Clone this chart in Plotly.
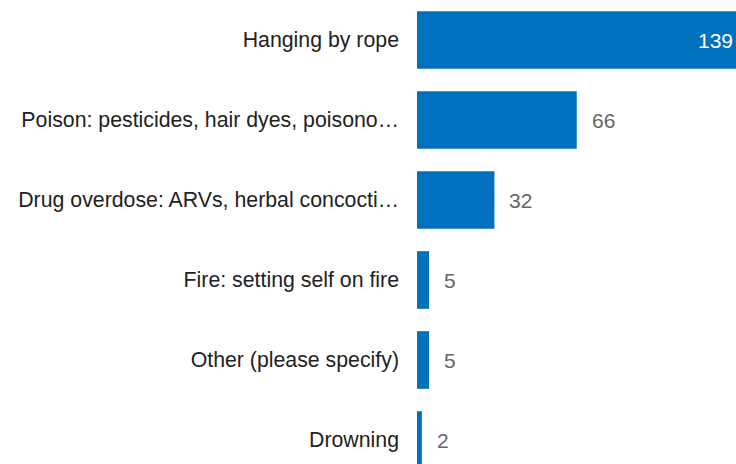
import plotly.graph_objects as go

categories = [
    "Hanging by rope",
    "Poison: pesticides, hair dyes, poisono…",
    "Drug overdose: ARVs, herbal concocti…",
    "Fire: setting self on fire",
    "Other (please specify)",
    "Drowning",
]
values = [139, 66, 32, 5, 5, 2]

BAR_COLOR = "#0071BC"
FONT = "Liberation Sans, Arial, sans-serif"

fig = go.Figure()
fig.add_trace(go.Bar(
    x=values,
    y=categories,
    orientation="h",
    marker=dict(color=BAR_COLOR, line=dict(width=0)),
    hoverinfo="skip",
))

x_max = 131.8
annotations = []
for i, (c, v) in enumerate(zip(categories, values)):
    if v > x_max:
        annotations.append(dict(
            x=1, xref="paper", y=c, yref="y", text=str(v),
            showarrow=False, xanchor="right", xshift=-1,
            font=dict(family=FONT, size=21, color="white"),
        ))
    else:
        annotations.append(dict(
            x=v, xref="x", y=c, yref="y", text=str(v),
            showarrow=False, xanchor="left", xshift=13,
            font=dict(family=FONT, size=21, color="#666666"),
        ))

fig.update_layout(
    width=736,
    height=464,
    margin=dict(l=417, r=0, t=0, b=0, autoexpand=False),
    paper_bgcolor="white",
    plot_bgcolor="white",
    bargap=0.28,
    showlegend=False,
    annotations=annotations,
    font=dict(family=FONT, size=21, color="#222222"),
)
fig.update_xaxes(visible=False, range=[0, x_max], fixedrange=True)
fig.update_yaxes(
    range=[5.3, -0.5],
    showgrid=False, zeroline=False, showline=False,
    ticks="", ticklabelstandoff=17,
    tickfont=dict(family=FONT, size=21.3, color="#222222"),
    automargin=False,
)

fig.write_html(
    "out.html",
    config={"displayModeBar": False},
    post_script="document.body.style.margin='0';document.body.style.overflow='hidden';",
)
